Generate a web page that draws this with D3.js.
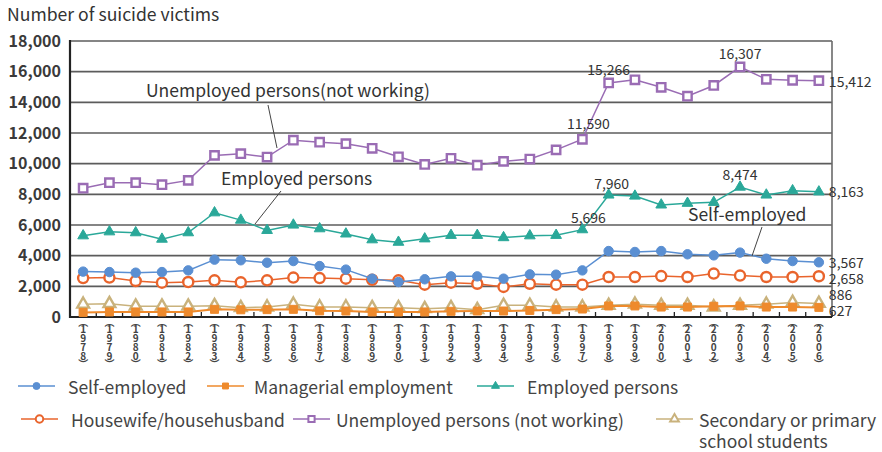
<!DOCTYPE html>
<html>
<head>
<meta charset="utf-8">
<script src="https://cdn.jsdelivr.net/npm/d3@7"></script>
<style>
  html, body { margin: 0; padding: 0; background: #fff; }
  svg { display: block; font-family: "Noto Sans CJK JP", "Noto Sans", sans-serif; }
</style>
</head>
<body>
<svg id="chart" width="882" height="452"></svg>
<script>
// Suicide victims by occupation, 1978-2006
const years = d3.range(1978, 2007);
const yTicks = [0, 2000, 4000, 6000, 8000, 10000, 12000, 14000, 16000, 18000];

const selfEmployed = [2960,2930,2890,2930,3040,3740,3700,3540,3650,3320,
                      3090,2500,2280,2460,2650,2650,2500,2780,2760,3040,
                      4300,4240,4300,4090,4020,4200,3800,3650,3567];
const managerial   = [300,330,330,330,330,500,470,480,500,400,
                      390,330,330,330,370,390,390,430,480,520,
                      720,720,650,650,700,720,650,650,627];
const employed     = [5300,5560,5500,5080,5500,6800,6320,5650,6000,5760,
                      5420,5040,4880,5100,5330,5330,5180,5300,5330,5696,
                      7960,7890,7310,7420,7480,8474,7960,8240,8163];
const housewife    = [2540,2570,2350,2240,2280,2390,2260,2390,2570,2540,
                      2500,2430,2390,2110,2240,2170,1960,2170,2110,2110,
                      2610,2610,2670,2610,2830,2700,2610,2610,2658];
const unemployed   = [8400,8760,8760,8630,8910,10540,10650,10430,11530,11400,
                      11300,11000,10450,9950,10350,9900,10150,10300,10900,11590,
                      15266,15470,14980,14400,15100,16307,15500,15440,15412];
const students     = [830,870,700,700,700,740,610,650,830,650,
                      650,610,610,540,610,480,760,760,650,650,
                      760,830,760,760,650,760,830,950,886];

const seriesNames = ["Self-employed", "Managerial employment", "Employed persons",
                     "Housewife/househusband", "Unemployed persons (not working)",
                     "Secondary or primary school students"];

const series = [
  { name: seriesNames[5], values: students,     color: "#c9b27c", shape: d3.symbolTriangle, open: true,  size: 60, width: 1.5 },
  { name: seriesNames[1], values: managerial,   color: "#ee8a2c", shape: d3.symbolSquare,   open: false, size: 64, width: 2 },
  { name: seriesNames[3], values: housewife,    color: "#e9642c", shape: d3.symbolCircle,   open: true,  size: 80, width: 1.5 },
  { name: seriesNames[0], values: selfEmployed, color: "#5a8fd2", shape: d3.symbolCircle,   open: false, size: 70, width: 1.5 },
  { name: seriesNames[2], values: employed,     color: "#2aa899", shape: d3.symbolTriangle, open: false, size: 50, width: 1.5 },
  { name: seriesNames[4], values: unemployed,   color: "#9a6cb4", shape: d3.symbolSquare,   open: true,  size: 70, width: 1.5 }
];

const svg = d3.select("#chart");
const plotLeft = 70, plotRight = 832, plotTop = 41, plotBottom = 317;

const x = d3.scaleBand().domain(years).range([plotLeft, plotRight]).padding(0);
const cx = yr => x(yr) + x.bandwidth() / 2;
const y = d3.scaleLinear().domain([0, 18000]).range([plotBottom, plotTop]);

// axis title
svg.append("text").attr("x", 7).attr("y", 13).attr("dominant-baseline", "central")
  .attr("font-size", 17.6).attr("fill", "#333").text("Number of suicide victims");

// y axis labels and horizontal grid
const yAxis = d3.axisLeft(y).tickValues(yTicks).tickSize(0).tickPadding(9)
  .tickFormat(d3.format(","));
const gy = svg.append("g").attr("transform", `translate(${plotLeft},0)`).call(yAxis);
gy.select(".domain").remove();
gy.selectAll("text").attr("font-size", 16).attr("font-weight", 600).attr("fill", "#3a3a3a")
  .attr("font-family", "\"Noto Sans CJK JP\", \"Noto Sans\", sans-serif");

svg.append("g").selectAll("line").data(yTicks.filter(d => d > 0)).join("line")
  .attr("x1", plotLeft).attr("x2", plotRight).attr("y1", d => y(d)).attr("y2", d => y(d))
  .attr("stroke", "#5c5c5c").attr("stroke-width", 1.6);

// right frame
svg.append("line").attr("x1", plotRight).attr("x2", plotRight).attr("y1", y(18000)).attr("y2", plotBottom)
  .attr("stroke", "#6a6a6a").attr("stroke-width", 1.6);

// x axis with ticks at category boundaries
const bounds = years.slice(1).map(yr => x(yr)).concat([plotRight]);
svg.append("g").selectAll("line").data(bounds).join("line")
  .attr("x1", d => d).attr("x2", d => d).attr("y1", plotBottom - 5).attr("y2", plotBottom)
  .attr("stroke", "#222").attr("stroke-width", 1.3);
svg.append("line").attr("x1", plotLeft).attr("x2", plotRight).attr("y1", plotBottom).attr("y2", plotBottom)
  .attr("stroke", "#222").attr("stroke-width", 2);
svg.append("line").attr("x1", plotLeft).attr("x2", plotLeft).attr("y1", y(18000) - 1).attr("y2", plotBottom + 1)
  .attr("stroke", "#222").attr("stroke-width", 2.2);

// vertical year labels: （1978） stacked one glyph per row
const xl = svg.append("g").attr("font-size", 10).attr("font-weight", 600).attr("fill", "#444");
const rowY = [321, 328.5, 337.5, 346.5, 355.5, 363];
years.forEach(yr => {
  const t = xl.append("text").attr("text-anchor", "middle");
  const chars = ["︵"].concat(String(yr).split("")).concat(["︶"]);
  chars.forEach((c, i) => {
    t.append("tspan").attr("x", cx(yr)).attr("y", rowY[i])
      .attr("dominant-baseline", "central").text(c);
  });
});

// series lines and markers
const line = d3.line().x((d, i) => cx(years[i])).y(d => y(d));
series.forEach(s => {
  const g = svg.append("g");
  g.append("path").datum(s.values).attr("d", line).attr("fill", "none")
    .attr("stroke", s.color).attr("stroke-width", s.width);
  g.selectAll("path.m").data(s.values).join("path").attr("class", "m")
    .attr("transform", (d, i) => `translate(${cx(years[i])},${y(d)})`)
    .attr("d", d3.symbol().type(s.shape).size(s.size))
    .attr("fill", s.open ? "#fff" : s.color)
    .attr("stroke", s.color)
    .attr("stroke-width", s.open ? 2.4 : 1);
});

// value labels
const idx = yr => years.indexOf(yr);
const fmt = d3.format(",");
const lab = svg.append("g").attr("font-size", 14).attr("fill", "#333");
const valueLabels = [
  { v: unemployed[idx(1997)], x: cx(1997) + 6, y: 123, anchor: "middle" },
  { v: unemployed[idx(1998)], x: cx(1998) + 0, y: 69, anchor: "middle" },
  { v: unemployed[idx(2003)], x: cx(2003), y: 53, anchor: "middle" },
  { v: unemployed[idx(2006)], x: cx(2006) + 10, y: 81, anchor: "start" },
  { v: employed[idx(1997)], x: cx(1997) + 6, y: 217, anchor: "middle" },
  { v: employed[idx(1998)], x: cx(1998) + 3, y: 183, anchor: "middle" },
  { v: employed[idx(2003)], x: cx(2003), y: 174, anchor: "middle" },
  { v: employed[idx(2006)], x: cx(2006) + 10, y: 191, anchor: "start" },
  { v: selfEmployed[idx(2006)], x: cx(2006) + 10, y: 262, anchor: "start" },
  { v: housewife[idx(2006)], x: cx(2006) + 10, y: 278, anchor: "start" },
  { v: students[idx(2006)], x: cx(2006) + 10, y: 294, anchor: "start" },
  { v: managerial[idx(2006)], x: cx(2006) + 10, y: 310, anchor: "start" }
];
valueLabels.forEach(l => {
  lab.append("text").attr("x", l.x).attr("y", l.y).attr("text-anchor", l.anchor)
    .attr("dominant-baseline", "central").text(fmt(l.v));
});

// in-plot callouts with leader lines
const notes = svg.append("g").attr("font-size", 17.5).attr("fill", "#333");
notes.append("text").attr("x", 146).attr("y", 89).attr("dominant-baseline", "central")
  .text("Unemployed persons(not working)");
notes.append("line").attr("x1", 268).attr("y1", 105).attr("x2", 277).attr("y2", 148)
  .attr("stroke", "#444").attr("stroke-width", 1);
notes.append("text").attr("x", 221).attr("y", 177).attr("dominant-baseline", "central")
  .text("Employed persons");
notes.append("line").attr("x1", 281).attr("y1", 191).attr("x2", 255).attr("y2", 224)
  .attr("stroke", "#444").attr("stroke-width", 1);
notes.append("text").attr("x", 688).attr("y", 213).attr("dominant-baseline", "central")
  .text("Self-employed");
notes.append("line").attr("x1", 762).attr("y1", 227).attr("x2", 752).attr("y2", 256)
  .attr("stroke", "#444").attr("stroke-width", 1);

// legend: marker line start, label start
const legendItems = [
  { s: series[3], x: 18,  tx: 68,  y: 386, lines: ["Self-employed"] },
  { s: series[1], x: 207, tx: 254, y: 386, lines: ["Managerial employment"] },
  { s: series[4], x: 477, tx: 527, y: 386, lines: ["Employed persons"] },
  { s: series[2], x: 21,  tx: 71,  y: 419, lines: ["Housewife/househusband"] },
  { s: series[5], x: 293, tx: 336, y: 419, lines: ["Unemployed persons (not working)"] },
  { s: series[0], x: 656, tx: 699, y: 419, lines: ["Secondary or primary", "school students"] }
];
const lg = svg.append("g");
legendItems.forEach(it => {
  const g = lg.append("g");
  g.append("line").attr("x1", it.x).attr("x2", it.x + 37).attr("y1", it.y).attr("y2", it.y)
    .attr("stroke", it.s.color).attr("stroke-width", 1.6);
  g.append("path").attr("transform", `translate(${it.x + 18.5},${it.y})`)
    .attr("d", d3.symbol().type(it.s.shape).size(it.s.size * 0.55))
    .attr("fill", it.s.open ? "#fff" : it.s.color).attr("stroke", it.s.color)
    .attr("stroke-width", it.s.open ? 2 : 1);
  it.lines.forEach((t, i) => {
    g.append("text").attr("x", it.tx).attr("y", it.y + i * 21)
      .attr("dominant-baseline", "central").attr("font-size", 17.5).attr("fill", "#444").text(t);
  });
});
</script>
</body>
</html>
